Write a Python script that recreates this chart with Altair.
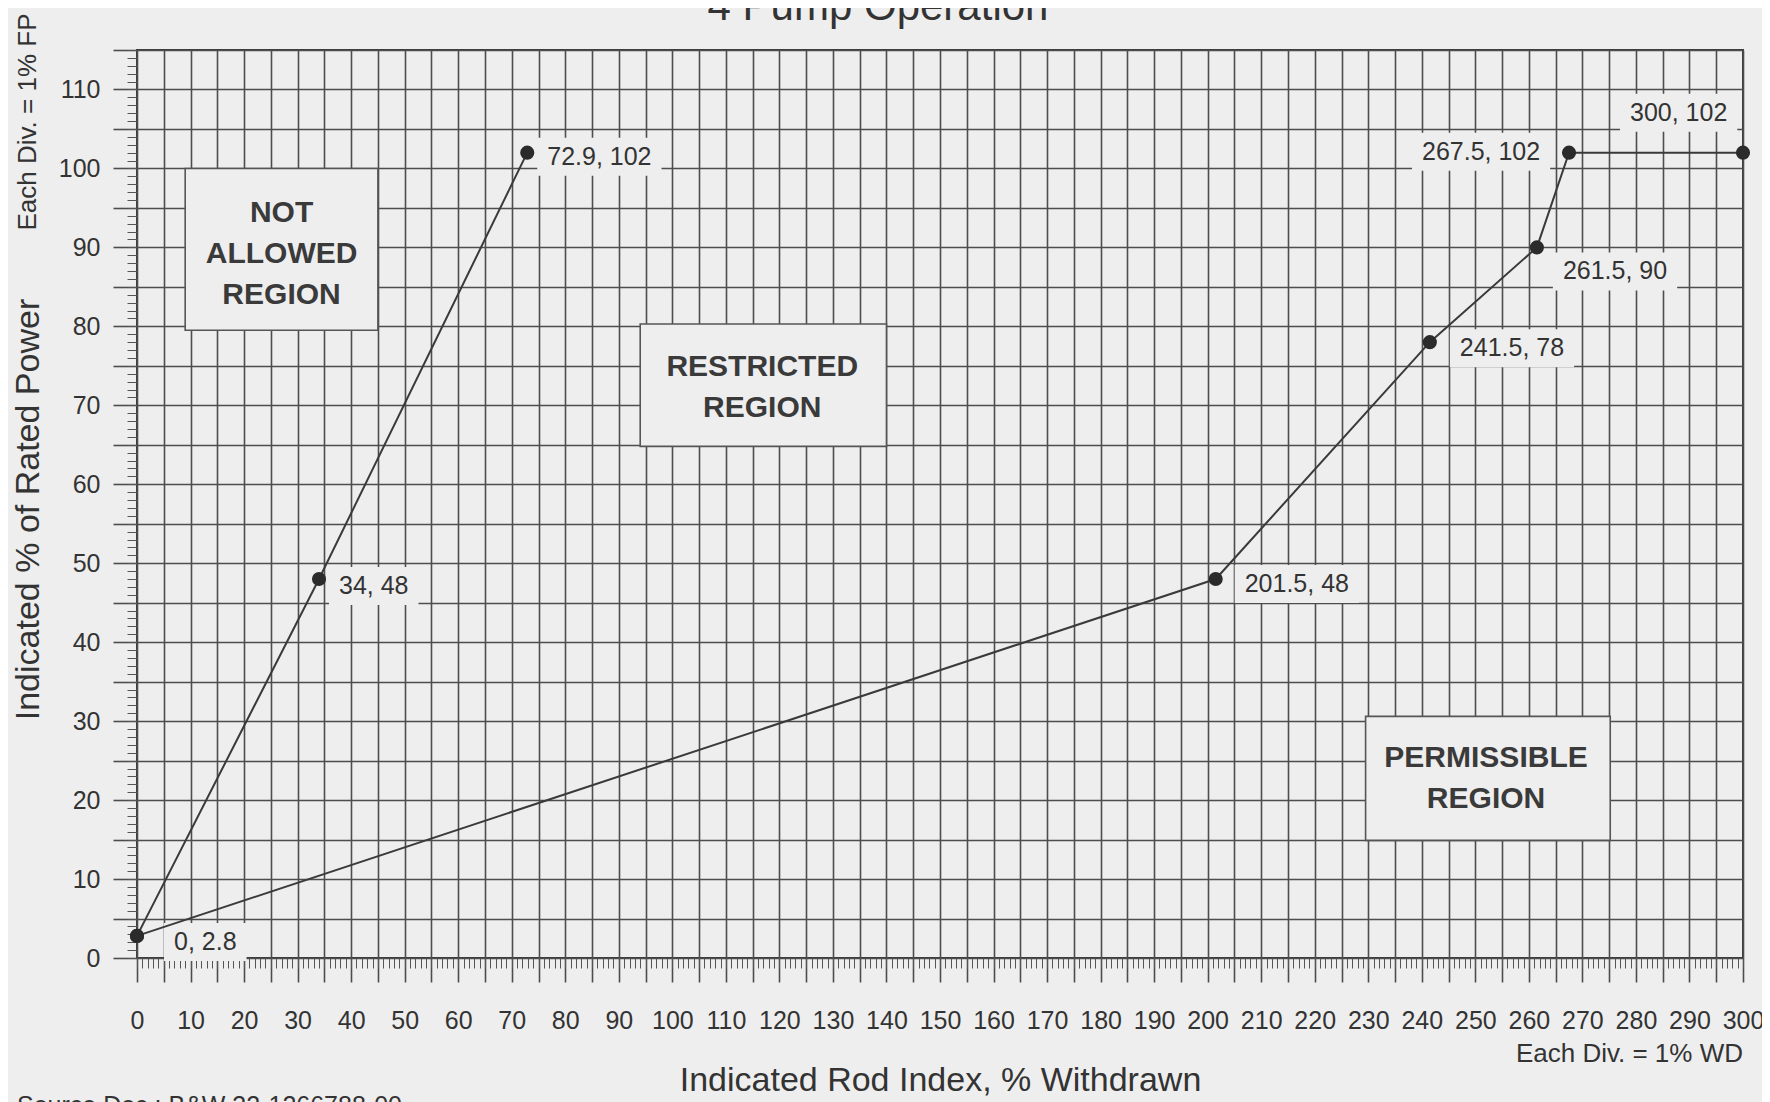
import altair as alt
import pandas as pd

# ---------------- data ----------------
na_x = [0, 34, 72.9]            # "not allowed" limit line
na_y = [2.8, 48, 102]
pm_x = [0, 201.5, 241.5, 261.5, 267.5, 300]   # "permissible" limit line
pm_y = [2.8, 48, 78, 90, 102, 102]

x_major = list(range(0, 301, 5))
x_minor = list(range(0, 301, 1))
y_major = list(range(0, 116, 5))
y_minor = list(range(0, 116, 1))

region_names = ["NOT\nALLOWED\nREGION", "RESTRICTED\nREGION", "PERMISSIBLE\nREGION"]
region_x0 = [9, 94, 229.5]
region_x1 = [45, 140, 275.2]
region_y0 = [79.5, 64.8, 14.9]
region_y1 = [100, 80.3, 30.6]
region_tx = [27, 116.8, 252]
region_ty = [94.3, 74.8, 25.3]   # first text line

title_text = "4 Pump Operation"
x_title = "Indicated Rod Index, % Withdrawn"
y_title = "Indicated % of Rated Power"
x_div = "Each Div. = 1% WD"
y_div = "Each Div. = 1% FP"
source_text = "Source Doc.: B&W 32-1266788-00"

# ---------------- layout / style ----------------
W, H = 1606, 908
XMAX, YMAX = 300, 115
XS, YS = W / XMAX, H / YMAX
FONT = "Liberation Sans"
BG = "#eeeeee"
INK = "#333333"
GRID = "#4d4d4d"

# label offsets in pixels from each point (text left edge, vertical centre)
label_offsets = [(37, 6), (20, 7), (20, 4), (29, 5), (30, 6), (26, 24), (-147, -1), (-113, -40)]
LABEL_FS = 25

# ---------------- tables ----------------
lines_df = pd.DataFrame(
    [{"series": "a", "i": i, "x": x, "y": y} for i, (x, y) in enumerate(zip(na_x, na_y))]
    + [{"series": "b", "i": i, "x": x, "y": y} for i, (x, y) in enumerate(zip(pm_x, pm_y))]
)

pts = []
for x, y in list(zip(na_x, na_y)) + list(zip(pm_x, pm_y)):
    if (x, y) not in pts:
        pts.append((x, y))


def text_w(s, fs):
    w = 0
    for ch in s:
        w += 0.556 if ch.isdigit() else 0.278
    return w * fs


lab_rows = []
for (x, y), (dx, dy) in zip(pts, label_offsets):
    t = f"{x:g}, {y:g}"
    lx = x + dx / XS
    ly = y - dy / YS
    w = text_w(t, LABEL_FS)
    lab_rows.append({
        "t": t, "lx": lx, "ly": ly,
        "bx0": lx - 10 / XS, "bx1": lx + (w + 10) / XS,
        "by0": ly - 19 / YS, "by1": ly + 19 / YS,
    })
lab_df = pd.DataFrame(lab_rows)

reg_df = pd.DataFrame({
    "name": region_names, "x0": region_x0, "x1": region_x1,
    "y0": region_y0, "y1": region_y1, "tx": region_tx, "ty": region_ty,
})

xs = alt.Scale(domain=[0, XMAX], nice=False, zero=False)
ys = alt.Scale(domain=[0, YMAX], nice=False, zero=False)

x_major_axis = alt.Axis(
    orient="bottom", values=x_major, format="d", tickSize=24, tickWidth=1.6, tickColor=GRID,
    grid=True, gridColor=GRID, gridWidth=1.6, gridOpacity=1, domain=False,
    labelExpr="datum.value % 10 === 0 ? datum.label : ''",
    labelFont=FONT, labelFontSize=25, labelColor=INK, labelPadding=26,
    labelFlush=False, labelOverlap=False,
    title=x_title, titleFont=FONT, titleFontSize=34, titleFontWeight="normal", titleColor=INK,
    titleX=803, titleY=132, titleAlign="center", titleBaseline="alphabetic",
)
y_major_axis = alt.Axis(
    orient="left", values=y_major, format="d", tickSize=24, tickWidth=1.6, tickColor=GRID,
    grid=True, gridColor=GRID, gridWidth=1.6, gridOpacity=1, domain=False,
    labelExpr="datum.value % 10 === 0 ? datum.label : ''",
    labelFont=FONT, labelFontSize=25, labelColor=INK, labelPadding=13,
    labelFlush=False, labelOverlap=False,
    title=y_title, titleFont=FONT, titleFontSize=34, titleFontWeight="normal", titleColor=INK,
    titleX=-109, titleY=459, titleAngle=270, titleAlign="center", titleBaseline="middle",
)
x_minor_axis = alt.Axis(orient="bottom", values=x_minor, tickSize=10, tickWidth=1, tickColor="#555555",
                        grid=False, domain=False, labels=False, title=None)
y_minor_axis = alt.Axis(orient="left", values=y_minor, tickSize=10, tickWidth=1, tickColor="#555555",
                        grid=False, domain=False, labels=False, title=None)

# ---------------- layers ----------------
label_bg = alt.Chart(lab_df).mark_rect(fill=BG, stroke=None).encode(
    x=alt.X("bx0:Q", scale=xs, axis=None), x2="bx1:Q",
    y=alt.Y("by0:Q", scale=ys, axis=None), y2="by1:Q",
)

reg_box = alt.Chart(reg_df).mark_rect(fill=BG, stroke="#555555", strokeWidth=1.6).encode(
    x=alt.X("x0:Q", scale=xs, axis=None), x2="x1:Q",
    y=alt.Y("y0:Q", scale=ys, axis=None), y2="y1:Q",
)

reg_text = alt.Chart(reg_df).mark_text(
    font=FONT, fontSize=30, fontWeight="bold", color="#3a3a3a", lineBreak="\n", lineHeight=41,
    align="center", baseline="middle",
).encode(
    x=alt.X("tx:Q", scale=xs, axis=None), y=alt.Y("ty:Q", scale=ys, axis=None), text="name:N",
)

lines = alt.Chart(lines_df).mark_line(color="#3a3a3a", strokeWidth=2).encode(
    x=alt.X("x:Q", scale=xs, axis=x_major_axis),
    y=alt.Y("y:Q", scale=ys, axis=y_major_axis),
    detail="series:N", order="i:Q",
)

points = alt.Chart(lines_df).mark_circle(size=200, color="#2b2b2b", opacity=1).encode(
    x=alt.X("x:Q", scale=xs, axis=x_minor_axis),
    y=alt.Y("y:Q", scale=ys, axis=y_minor_axis),
)

pt_labels = alt.Chart(lab_df).mark_text(
    font=FONT, fontSize=LABEL_FS, color=INK, align="left", baseline="middle",
).encode(
    x=alt.X("lx:Q", scale=xs, axis=None), y=alt.Y("ly:Q", scale=ys, axis=None), text="t:N",
)


def free_text(txt, x, y, fs, align="left", baseline="alphabetic", angle=0):
    return alt.Chart(pd.DataFrame({"t": [txt]})).mark_text(
        font=FONT, fontSize=fs, color=INK, align=align, baseline=baseline, angle=angle,
    ).encode(x=alt.value(x), y=alt.value(y), text="t:N")


t_title = free_text(title_text, 741, -30, 42, align="center")
t_xdiv = free_text(x_div, W, 1012, 26, align="right")
t_ydiv = free_text(y_div, -109, 72, 26, align="center", baseline="middle", angle=270)
t_src = free_text(source_text, -120, 1064, 25)

chart = alt.layer(
    label_bg, reg_box, reg_text, lines, points, pt_labels, t_title, t_xdiv, t_ydiv, t_src
).resolve_axis(x="independent", y="independent").properties(
    width=W, height=H,
    autosize=alt.AutoSizeParams(type="none"),
    padding={"left": 129, "top": 42, "right": 19, "bottom": 144},
    background=BG,
).configure_view(stroke="#3a3a3a", strokeWidth=2, fill=BG)

chart.save("out.html", embed_options={"renderer": "svg", "actions": False})
